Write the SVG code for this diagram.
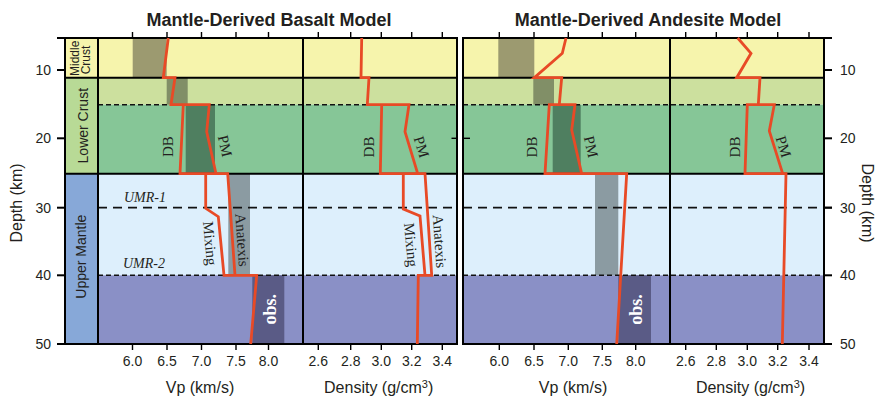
<svg xmlns="http://www.w3.org/2000/svg" width="877" height="398" viewBox="0 0 877 398">
  <style>
    .sans { font-family: "Liberation Sans", Arial, sans-serif; fill: #231f20; }
    .serif { font-family: "Liberation Serif", "Times New Roman", serif; fill: #231f20; }
    .title { font-size: 18px; font-weight: bold; text-anchor: middle; }
    .tick { font-size: 14px; text-anchor: middle; }
    .axis { font-size: 16px; text-anchor: middle; }
    .zone { font-size: 14px; text-anchor: middle; }
    .model { font-size: 15px; text-anchor: middle; dominant-baseline: central; }
    .umr { font-size: 14px; font-style: italic; text-anchor: middle; }
    .obs { font-family: "Liberation Serif", "Times New Roman", serif; font-size: 18px; font-weight: bold; fill: #ffffff; text-anchor: middle; }
    .frame { fill: none; stroke: #000; stroke-width: 2; }
    .grid { stroke: #000; stroke-width: 2; fill: none; }
    .dash15 { stroke: #111; stroke-width: 1.6; stroke-dasharray: 5 3; }
    .dash30 { stroke: #111; stroke-width: 1.8; stroke-dasharray: 9 6; }
    .tk { stroke: #000; stroke-width: 1.4; }
    .tkb { stroke: #000; stroke-width: 2; }
    .red { fill: none; stroke: #e84a26; stroke-width: 2.8; stroke-linejoin: miter; }
    .mc { fill: #f6f4ac; }
    .lc1 { fill: #cce09e; }
    .lc2 { fill: #86c697; }
    .um { fill: #ddeffc; }
    .lm { fill: #8a90c6; }
  </style>

  <!-- titles -->
  <text class="sans title" x="269" y="26">Mantle-Derived Basalt Model</text>
  <text class="sans title" x="648" y="26">Mantle-Derived Andesite Model</text>

  <!-- left depth axis -->
  <g id="depth-axis-left">
    <line class="tkb" x1="65" y1="37" x2="65" y2="345"/>
    <line class="tkb" x1="57" y1="38" x2="65" y2="38"/>
    <line class="tkb" x1="57" y1="70" x2="65" y2="70"/>
    <line class="tkb" x1="57" y1="138.3" x2="65" y2="138.3"/>
    <line class="tkb" x1="57" y1="207.7" x2="65" y2="207.7"/>
    <line class="tkb" x1="57" y1="275.3" x2="65" y2="275.3"/>
    <line class="tkb" x1="57" y1="344" x2="65" y2="344"/>
    <g class="sans" font-size="14" text-anchor="end">
      <text x="51" y="75">10</text>
      <text x="51" y="143.3">20</text>
      <text x="51" y="212.7">30</text>
      <text x="51" y="280.3">40</text>
      <text x="51" y="349">50</text>
    </g>
    <text class="sans axis" transform="translate(22,203) rotate(-90)">Depth (km)</text>
  </g>

  <!-- zone label column -->
  <g id="zone-column">
    <rect class="mc" x="65" y="38" width="33" height="39.7"/>
    <rect fill="#b8da96" x="65" y="77.7" width="33" height="96"/>
    <rect fill="#87a8d8" x="65" y="173.7" width="33" height="170.3"/>
    <text class="sans" font-size="12" text-anchor="middle" transform="translate(78.6,58.3) rotate(-90)">Middle</text>
    <text class="sans" font-size="12" text-anchor="middle" transform="translate(90.4,60) rotate(-90)">Crust</text>
    <text class="sans zone" transform="translate(88.3,125.7) rotate(-90)">Lower Crust</text>
    <text class="sans zone" transform="translate(86.3,256.7) rotate(-90)">Upper Mantle</text>
  </g>

  <!-- basalt model panel -->
  <g id="panel-basalt">
    <rect class="mc" x="98" y="38" width="359" height="39.7"/>
    <rect class="lc1" x="98" y="77.7" width="359" height="27"/>
    <rect class="lc2" x="98" y="104.7" width="359" height="69"/>
    <rect class="um" x="98" y="173.7" width="359" height="101.6"/>
    <rect class="lm" x="98" y="275.3" width="359" height="68.7"/>

    <!-- observed Vp ranges -->
    <rect fill="#9c9a70" x="132.7" y="38" width="34" height="39.7"/>
    <rect fill="#818f67" x="166.7" y="77.7" width="21" height="27"/>
    <rect fill="#4f7f60" x="185.7" y="104.7" width="29.3" height="69"/>
    <rect fill="#8b9ba2" x="228.3" y="173.7" width="21.7" height="101.6"/>
    <rect fill="#5a5b86" x="252.3" y="275.3" width="32" height="68.7"/>
  </g>

  <!-- andesite model panel -->
  <g id="panel-andesite">
    <rect class="mc" x="463" y="38" width="361" height="39.7"/>
    <rect class="lc1" x="463" y="77.7" width="361" height="27"/>
    <rect class="lc2" x="463" y="104.7" width="361" height="69"/>
    <rect class="um" x="463" y="173.7" width="361" height="101.6"/>
    <rect class="lm" x="463" y="275.3" width="361" height="68.7"/>

    <rect fill="#9c9a70" x="498.3" y="38" width="36" height="39.7"/>
    <rect fill="#818f67" x="533.3" y="77.7" width="20.7" height="27"/>
    <rect fill="#4f7f60" x="552.7" y="104.7" width="28" height="69"/>
    <rect fill="#8b9ba2" x="595" y="173.7" width="23.3" height="101.6"/>
    <rect fill="#5a5b86" x="618.3" y="275.3" width="32.7" height="68.7"/>
  </g>

  <!-- layer boundaries -->
  <g id="boundaries">
    <line class="dash15" x1="98" y1="104.7" x2="457" y2="104.7"/>
    <line class="dash15" x1="463" y1="104.7" x2="824" y2="104.7"/>
    <line class="dash30" x1="98" y1="207.7" x2="457" y2="207.7"/>
    <line class="dash30" x1="463" y1="207.7" x2="832" y2="207.7"/>
    <line class="dash15" x1="98" y1="275.3" x2="457" y2="275.3"/>
    <line class="dash15" x1="463" y1="275.3" x2="824" y2="275.3"/>
    <line class="grid" x1="65" y1="77.7" x2="457" y2="77.7"/>
    <line class="grid" x1="463" y1="77.7" x2="824" y2="77.7"/>
    <line class="grid" x1="65" y1="173.7" x2="457" y2="173.7"/>
    <line class="grid" x1="463" y1="173.7" x2="824" y2="173.7"/>
    <line class="grid" x1="98" y1="38" x2="98" y2="344"/>
    <line class="grid" x1="303" y1="38" x2="303" y2="344"/>
    <line class="grid" x1="670" y1="38" x2="670" y2="344"/>
  </g>

  <!-- frames -->
  <rect class="frame" x="65" y="38" width="392" height="306"/>
  <rect class="frame" x="463" y="38" width="361" height="306" stroke="#333"/>

  <!-- model curves -->
  <g id="connectors">
    <!-- basalt Vp -->
    <path class="red" d="M168.3,38 L163.3,77.7 L175,77.7 L171,104.7 L209.3,104.7 L206.7,131.7 L216,173.7 L227.7,173.7 L235,275.3"/>
    <path class="red" d="M183.3,104.7 L180,173.7 L216,173.7"/>
    <path class="red" d="M205.7,173.7 L205.7,208.3 L218.3,216.7 L224,275.3 L256.7,275.3 L250.7,344"/>
    <!-- basalt density -->
    <path class="red" d="M361.7,38 L361,77.7 L369,77.7 L367.3,104.7 L409,104.7 L405,131.7 L417.7,173.7 L425,173.7 L431.7,275.3 L418.3,275.3 L417.3,344"/>
    <path class="red" d="M381.7,104.7 L380.3,173.7 L417.7,173.7"/>
    <path class="red" d="M403.3,173.7 L403.3,209 L420,216 L425,275.3"/>
    <!-- andesite Vp -->
    <path class="red" d="M566,38 L562.3,53.3 L534.3,77.7 L561.7,77.7 L559.3,104.7 L549.3,104.7 L545,173.7 L626.7,173.7 L616.7,344"/>
    <path class="red" d="M559.3,104.7 L575,104.7 L571.7,130 L581.7,173.7"/>
    <!-- andesite density -->
    <path class="red" d="M737.7,38 L751,53.3 L736.7,77.7 L760,77.7 L758.3,104.7 L747.3,104.7 L745,173.7 L786,173.7 L782.3,344"/>
    <path class="red" d="M758.3,104.7 L774.3,104.7 L769.3,131 L782.7,173.7"/>
  </g>

  <!-- curve labels -->
  <g id="labels">
    <text class="serif model" transform="translate(167.5,146.7) rotate(-90)">DB</text>
    <text class="serif model" transform="translate(225,146) rotate(77)">PM</text>
    <text class="serif model" transform="translate(369,147) rotate(-90)">DB</text>
    <text class="serif model" transform="translate(421.5,147) rotate(73)">PM</text>
    <text class="serif model" transform="translate(531.5,147) rotate(-90)">DB</text>
    <text class="serif model" transform="translate(591,146.7) rotate(77)">PM</text>
    <text class="serif model" transform="translate(734.5,147) rotate(-90)">DB</text>
    <text class="serif model" transform="translate(783.5,146.7) rotate(73)">PM</text>

    <text class="serif model" font-size="14.5" transform="translate(210,243.3) rotate(85)">Mixing</text>
    <text class="serif model" font-size="14.5" transform="translate(242,240) rotate(86)">Anatexis</text>
    <text class="serif model" font-size="14.5" transform="translate(411,244.7) rotate(85)">Mixing</text>
    <text class="serif model" font-size="14.5" transform="translate(439.5,241.3) rotate(86)">Anatexis</text>

    <text class="serif umr" x="145" y="202.3">UMR-1</text>
    <text class="serif umr" x="144" y="267.7">UMR-2</text>

    <text class="obs" transform="translate(276,309.3) rotate(-90)">obs.</text>
    <text class="obs" transform="translate(641.7,309.5) rotate(-90)">obs.</text>
  </g>

  <!-- horizontal axes -->
  <g id="axis-basalt-vp">
    <path class="tk" d="M132.5,32V38M167,32V38M201.5,32V38M236,32V38M268.5,32V38M132.5,344V350M167,344V350M201.5,344V350M236,344V350M268.5,344V350"/>
    <text class="sans tick" x="132.5" y="366">6.0</text>
    <text class="sans tick" x="167" y="366">6.5</text>
    <text class="sans tick" x="201.5" y="366">7.0</text>
    <text class="sans tick" x="236" y="366">7.5</text>
    <text class="sans tick" x="268.5" y="366">8.0</text>
    <text class="sans axis" x="200" y="393">Vp (km/s)</text>
  </g>
  <g id="axis-basalt-density">
    <path class="tk" d="M318.3,32V38M350.7,32V38M381.3,32V38M411.7,32V38M442.3,32V38M318.3,344V350M350.7,344V350M381.3,344V350M411.7,344V350M442.3,344V350"/>
    <path class="tk" d="M451.5,138.3H457"/>
    <text class="sans tick" x="318.3" y="366">2.6</text>
    <text class="sans tick" x="350.7" y="366">2.8</text>
    <text class="sans tick" x="381.3" y="366">3.0</text>
    <text class="sans tick" x="411.7" y="366">3.2</text>
    <text class="sans tick" x="442.3" y="366">3.4</text>
    <text class="sans axis" x="378.7" y="393">Density (g/cm<tspan font-size="11" dy="-5">3</tspan><tspan dy="5">)</tspan></text>
  </g>
  <g id="axis-andesite-vp">
    <path class="tk" d="M499.3,32V38M534,32V38M568.3,32V38M602.3,32V38M635.7,32V38M499.3,344V350M534,344V350M568.3,344V350M602.3,344V350M635.7,344V350"/>
    <path class="tk" d="M463,138.3H470"/>
    <text class="sans tick" x="499.3" y="366">6.0</text>
    <text class="sans tick" x="534" y="366">6.5</text>
    <text class="sans tick" x="568.3" y="366">7.0</text>
    <text class="sans tick" x="602.3" y="366">7.5</text>
    <text class="sans tick" x="635.7" y="366">8.0</text>
    <text class="sans axis" x="573" y="393">Vp (km/s)</text>
  </g>
  <g id="axis-andesite-density">
    <path class="tk" d="M685.7,32V38M716.3,32V38M747.3,32V38M777.7,32V38M809,32V38M685.7,344V350M716.3,344V350M747.3,344V350M777.7,344V350M809,344V350"/>
    <text class="sans tick" x="685.7" y="366">2.6</text>
    <text class="sans tick" x="716.3" y="366">2.8</text>
    <text class="sans tick" x="747.3" y="366">3.0</text>
    <text class="sans tick" x="777.7" y="366">3.2</text>
    <text class="sans tick" x="809" y="366">3.4</text>
    <text class="sans axis" x="750.5" y="393">Density (g/cm<tspan font-size="11" dy="-5">3</tspan><tspan dy="5">)</tspan></text>
  </g>

  <!-- right depth axis -->
  <g id="depth-axis-right">
    <line class="tkb" x1="824" y1="37" x2="824" y2="345"/>
    <line class="tkb" x1="824" y1="38" x2="832" y2="38"/>
    <line class="tkb" x1="824" y1="70" x2="832" y2="70"/>
    <line class="tkb" x1="824" y1="138.3" x2="832" y2="138.3"/>
    <line class="tkb" x1="824" y1="207.7" x2="832" y2="207.7"/>
    <line class="tkb" x1="824" y1="275.3" x2="832" y2="275.3"/>
    <line class="tkb" x1="824" y1="344" x2="832" y2="344"/>
    <g class="sans" font-size="14">
      <text x="840" y="75">10</text>
      <text x="840" y="143.3">20</text>
      <text x="840" y="212.7">30</text>
      <text x="840" y="280.3">40</text>
      <text x="840" y="349">50</text>
    </g>
    <text class="sans axis" transform="translate(861.8,203) rotate(90)">Depth (km)</text>
  </g>
</svg>
